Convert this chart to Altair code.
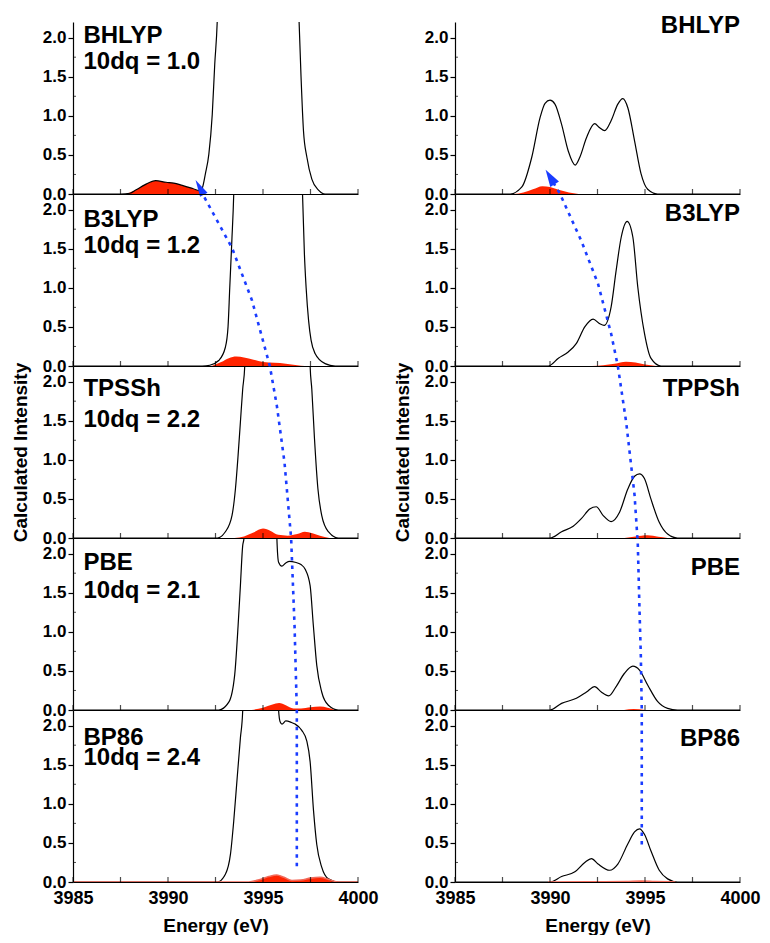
import altair as alt
import pandas as pd

FONT = "Liberation Sans"
RED = "#ff2400"
BLUE = "#1a3cff"

X_DOMAIN = [3985, 4000]
Y_DOMAIN = [0, 2.2]
PANEL_SPAN = 2.2
X_LABELS = [3985, 3990, 3995, 4000]
X_TICKS = [3985, 3987.5, 3990, 3992.5, 3995, 3997.5, 4000]
Y_LABELS = [0, 0.5, 1.0, 1.5, 2.0]
Y_MINOR = [0.25, 0.75, 1.25, 1.75]

# ---------------- left column (10dq) ----------------
left_names = ["BHLYP", "B3LYP", "TPSSh", "PBE", "BP86"]
left_dq = ["10dq = 1.0", "10dq = 1.2", "10dq = 2.2", "10dq = 2.1", "10dq = 2.4"]
left_name_y = [2.02, 1.87, 1.90, 1.88, 1.84]
left_dq_y = [1.69, 1.53, 1.51, 1.52, 1.58]

L1_black_E = [3985.0, 3987.5, 3988.0, 3988.3, 3988.8, 3989.35, 3989.9, 3990.3, 3990.75, 3991.3, 3991.7,
              3991.8, 3991.97, 3992.15, 3992.33, 3992.46, 3992.59, 3992.7, 3996.8, 3996.9, 3997.01, 3997.13,
              3997.31, 3997.57, 3997.92, 3998.27, 4000.0]
L1_black_I = [0, 0, 0.01, 0.05, 0.12, 0.17, 0.15, 0.14, 0.11, 0.07, 0.04,
              0.07, 0.26, 0.51, 1.02, 1.66, 2.2, 3.2, 3.2, 2.2, 1.45, 0.81,
              0.47, 0.19, 0.05, 0.0, 0.0]
L1_red_E = [3987.8, 3988.3, 3988.8, 3989.35, 3989.9, 3990.3, 3990.75, 3991.3, 3991.7, 3992.0]
L1_red_I = [0, 0.05, 0.12, 0.17, 0.15, 0.14, 0.11, 0.07, 0.03, 0]

L2_black_E = [3985.0, 3991.8, 3992.2, 3992.67, 3993.02, 3993.16, 3993.25, 3993.36, 3993.46, 3993.55,
              3996.98, 3997.08, 3997.18, 3997.27, 3997.4, 3997.53, 3997.74, 3998.27, 3998.8, 4000.0]
L2_black_I = [0, 0, 0.01, 0.07, 0.24, 0.5, 1.0, 1.6, 2.2, 3.2,
              3.2, 2.2, 1.43, 1.0, 0.58, 0.33, 0.16, 0.03, 0, 0]
L2_red_E = [3992.3, 3992.8, 3993.2, 3993.6, 3994.0, 3994.5, 3995.0, 3995.6, 3996.2, 3996.8, 3997.2]
L2_red_I = [0, 0.05, 0.1, 0.12, 0.11, 0.08, 0.05, 0.04, 0.03, 0.01, 0]

L3_black_E = [3985.0, 3992.59, 3993.02, 3993.37, 3993.55, 3993.69, 3993.81, 3993.93, 3994.04, 3994.15,
              3997.38, 3997.48, 3997.57, 3997.71, 3997.89, 3998.09, 3998.44, 3998.96, 4000.0]
L3_black_I = [0, 0, 0.08, 0.29, 0.63, 1.06, 1.48, 1.9, 2.2, 3.2,
              3.2, 2.2, 1.9, 1.27, 0.63, 0.29, 0.08, 0, 0]
L3_red_E = [3993.5, 3994.0, 3994.5, 3995.0, 3995.4, 3995.8, 3996.3, 3996.8, 3997.2, 3997.6, 3998.0, 3998.5]
L3_red_I = [0, 0.02, 0.07, 0.12, 0.09, 0.04, 0.03, 0.05, 0.08, 0.06, 0.03, 0]

L4_black_E = [3985.0, 3992.67, 3993.2, 3993.51, 3993.69, 3993.81, 3993.93, 3994.0, 3994.1,
              3995.65, 3995.73, 3995.82, 3995.99, 3996.2, 3996.4, 3996.69, 3997.0, 3997.22, 3997.48,
              3997.65, 3997.83, 3998.09, 3998.44, 3998.96, 4000.0]
L4_black_I = [0, 0, 0.1, 0.45, 1.08, 1.59, 2.1, 2.2, 3.2,
              3.2, 2.2, 1.89, 1.84, 1.88, 1.9, 1.89, 1.86, 1.8, 1.59,
              1.08, 0.57, 0.23, 0.06, 0, 0]
L4_red_E = [3994.4, 3995.0, 3995.5, 3995.85, 3996.2, 3996.6, 3997.0, 3997.5, 3998.0, 3998.4, 3998.8]
L4_red_I = [0, 0.03, 0.07, 0.09, 0.06, 0.02, 0.02, 0.035, 0.045, 0.03, 0]

L5_black_E = [3985.0, 3992.59, 3993.02, 3993.29, 3993.46, 3993.64, 3993.81, 3993.93, 3994.0,
              3995.75, 3995.82, 3995.9, 3996.0, 3996.2, 3996.5, 3996.69, 3997.04, 3997.31, 3997.48,
              3997.66, 3997.83, 3998.09, 3998.44, 3998.96, 4000.0]
L5_black_I = [0, 0, 0.1, 0.36, 0.78, 1.33, 1.84, 2.18, 3.2,
              3.2, 2.2, 2.05, 2.02, 2.06, 2.04, 2.02, 1.94, 1.8, 1.54,
              0.91, 0.48, 0.19, 0.04, 0, 0]
L5_red_E = [3985.0, 3994.25, 3994.8, 3995.3, 3995.73, 3996.1, 3996.52, 3997.0, 3997.5, 3998.0, 3998.5,
            3998.96, 4000.0]
L5_red_I = [0, 0, 0.03, 0.07, 0.09, 0.06, 0.02, 0.025, 0.05, 0.06, 0.03, 0, 0]

# ---------------- right column ----------------
right_names = ["BHLYP", "B3LYP", "TPPSh", "PBE", "BP86"]
right_name_y = [2.15, 1.94, 1.91, 1.81, 1.83]

R1_black_E = [3985.0, 3987.91, 3988.52, 3989.04, 3989.48, 3989.74, 3990.0, 3990.26, 3990.61, 3990.96,
              3991.33, 3991.57, 3991.92, 3992.35, 3992.6, 3992.88, 3993.22, 3993.57, 3993.83, 3994.1,
              3994.45, 3994.79, 3995.14, 3995.66, 4000.0]
R1_black_I = [0, 0, 0.09, 0.47, 0.98, 1.16, 1.2, 1.15, 0.89, 0.55,
              0.37, 0.47, 0.72, 0.9, 0.85, 0.81, 0.94, 1.15, 1.22, 1.1,
              0.68, 0.26, 0.06, 0, 0]
R1_red_E = [3988.1, 3988.6, 3989.1, 3989.6, 3990.0, 3990.5, 3991.0, 3991.5]
R1_red_I = [0, 0.02, 0.06, 0.1, 0.09, 0.05, 0.02, 0]

R2_black_E = [3985.0, 3989.91, 3990.44, 3990.96, 3991.39, 3991.83, 3992.27, 3992.62, 3992.85, 3993.22,
              3993.48, 3993.75, 3994.06, 3994.36, 3994.62, 3994.97, 3995.31, 3995.84, 4000.0]
R2_black_I = [0, 0, 0.1, 0.18, 0.29, 0.5, 0.6, 0.54, 0.52, 0.76,
              1.22, 1.65, 1.85, 1.65, 1.01, 0.42, 0.1, 0, 0]
R2_red_E = [3992.2, 3992.8, 3993.4, 3994.0, 3994.5, 3995.0, 3995.6]
R2_red_I = [0, 0.01, 0.03, 0.055, 0.045, 0.02, 0]

R3_black_E = [3985.0, 3990.0, 3990.61, 3991.22, 3991.66, 3992.09, 3992.44, 3992.79, 3993.22, 3993.66,
              3994.1, 3994.45, 3994.71, 3994.97, 3995.31, 3995.75, 3996.19, 3996.71, 4000.0]
R3_black_I = [0, 0, 0.08, 0.15, 0.25, 0.37, 0.4, 0.29, 0.21, 0.33,
              0.63, 0.79, 0.82, 0.76, 0.5, 0.2, 0.05, 0, 0]
R3_red_E = [3993.92, 3994.5, 3995.14, 3995.7, 3996.19]
R3_red_I = [0, 0.02, 0.035, 0.015, 0]

R4_black_E = [3985.0, 3990.0, 3990.61, 3991.39, 3991.92, 3992.35, 3992.7, 3993.09, 3993.48, 3993.92,
              3994.36, 3994.71, 3995.14, 3995.66, 3996.19, 3996.71, 4000.0]
R4_black_I = [0, 0, 0.085, 0.15, 0.23, 0.3, 0.23, 0.18, 0.3, 0.47,
              0.56, 0.51, 0.32, 0.11, 0.02, 0, 0]
R4_red_E = [3993.9, 3994.4, 3995.0]
R4_red_I = [0, 0.012, 0]

R5_black_E = [3985.0, 3990.0, 3990.61, 3991.31, 3991.83, 3992.18, 3992.53, 3993.14, 3993.57, 3994.1,
              3994.45, 3994.71, 3994.97, 3995.31, 3995.75, 3996.19, 3996.71, 4000.0]
R5_black_I = [0, 0, 0.07, 0.13, 0.25, 0.3, 0.23, 0.15, 0.23, 0.49,
              0.64, 0.68, 0.61, 0.4, 0.15, 0.04, 0, 0]
R5_red_E = [3989.9, 3992.0, 3994.0, 3994.8, 3995.5, 3996.6]
R5_red_I = [0, 0.003, 0.006, 0.012, 0.006, 0]

# ---------------- blue dashed arrows (stacked intensity: panel offset + local) ----------------
left_arrow_E = [3996.78, 3996.78, 3996.66, 3996.48, 3996.13, 3995.73, 3995.36, 3994.42, 3993.37, 3991.82, 3991.61]
left_arrow_G = [0.2, 2.2, 3.28, 4.4, 5.37, 6.09, 6.6, 7.44, 8.11, 8.8, 8.9]
left_tip = (3991.45, 0.18)

right_arrow_E = [3994.83, 3994.83, 3994.78, 3994.71, 3994.62, 3994.45, 3994.01, 3993.57, 3993.22,
                 3992.53, 3991.65, 3990.53, 3989.99]
right_arrow_G = [0.48, 2.2, 2.9, 3.49, 4.33, 4.95, 5.88, 6.6, 7.01, 7.65, 8.2, 8.8, 9.02]
right_tip = (3989.77, 0.31)

LEFT = dict(
    black=[(L1_black_E, L1_black_I), (L2_black_E, L2_black_I), (L3_black_E, L3_black_I),
           (L4_black_E, L4_black_I), (L5_black_E, L5_black_I)],
    red=[(L1_red_E, L1_red_I), (L2_red_E, L2_red_I), (L3_red_E, L3_red_I),
         (L4_red_E, L4_red_I), (L5_red_E, L5_red_I)],
    arrow=(left_arrow_E, left_arrow_G), tip=left_tip, tip_angle=331, tip_w=0.5,
)
RIGHT = dict(
    black=[(R1_black_E, R1_black_I), (R2_black_E, R2_black_I), (R3_black_E, R3_black_I),
           (R4_black_E, R4_black_I), (R5_black_E, R5_black_I)],
    red=[(R1_red_E, R1_red_I), (R2_red_E, R2_red_I), (R3_red_E, R3_red_I),
         (R4_red_E, R4_red_I), (R5_red_E, R5_red_I)],
    arrow=(right_arrow_E, right_arrow_G), tip=right_tip, tip_angle=328, tip_w=0.6,
)

PW, PH = 285, 172


def panel(col, side, p):
    bottom = p == 4
    xs = alt.Scale(domain=X_DOMAIN, nice=False, zero=False)
    ys = alt.Scale(domain=Y_DOMAIN, nice=False, zero=False)
    if bottom:
        xaxis = alt.Axis(values=X_LABELS, format="d", ticks=False, labelFlush=False, labelOverlap=False,
                         labelFontSize=18, labelFontWeight="bold", labelPadding=7, labelColor="black",
                         titleFontSize=19, titleFontWeight="bold", titlePadding=9, titleColor="black",
                         domainColor="black", domainWidth=1.2, grid=False, zindex=0)
        xtitle = "Energy (eV)"
    else:
        xaxis = alt.Axis(labels=False, ticks=False, domainColor="black", domainWidth=1.2, grid=False, zindex=1)
        xtitle = None
    yaxis = alt.Axis(values=Y_LABELS, format=".1f", tickSize=5, tickColor="black", tickWidth=1.2,
                     labelFontSize=17, labelFontWeight="bold", labelPadding=2, labelColor="black",
                     labelOverlap=False, domainColor="black", domainWidth=1.2, grid=False,
                     titleFontSize=19, titleFontWeight="bold", titlePadding=12, titleColor="black", zindex=1)
    ytitle = "Calculated Intensity" if p == 2 else None

    def X():
        return alt.X("E:Q", scale=xs, axis=xaxis, title=xtitle)

    def Y():
        return alt.Y("I:Q", scale=ys, axis=yaxis, title=ytitle)

    bE, bI = col["black"][p]
    rE, rI = col["red"][p]
    red_df = pd.DataFrame({"E": rE, "I": rI})
    black_df = pd.DataFrame({"E": bE, "I": bI})
    offset = (4 - p) * PANEL_SPAN
    aE, aG = col["arrow"]
    arrow_df = pd.DataFrame({"E": aE, "I": [g - offset for g in aG], "k": list(range(len(aE)))})
    xt_df = pd.DataFrame({"E": X_TICKS, "I": [0] * len(X_TICKS)})
    yt_df = pd.DataFrame({"E": [X_DOMAIN[0]] * len(Y_MINOR), "I": Y_MINOR})

    layers = [
        alt.Chart(red_df).mark_area(color=RED, interpolate="monotone", clip=True, opacity=1).encode(x=X(), y=Y()),
        alt.Chart(black_df).mark_line(color="black", strokeWidth=1.2, interpolate="monotone", clip=True).encode(x=X(), y=Y()),
    ]
    if bottom:
        layers.append(alt.Chart(red_df).mark_line(color="#f26a5a", strokeWidth=1.6, interpolate="monotone", clip=True)
                      .encode(x=X(), y=Y()))
    layers += [
        alt.Chart(xt_df).mark_tick(orient="vertical", size=5, thickness=1.2, color="black", yOffset=-2.5)
        .encode(x=X(), y=Y()),
        alt.Chart(yt_df).mark_tick(orient="horizontal", size=3, thickness=1, color="black", xOffset=1.5)
        .encode(x=X(), y=Y()),
        alt.Chart(arrow_df).mark_line(color=BLUE, strokeWidth=2.6, strokeDash=[3.5, 5], clip=True)
        .encode(x=X(), y=Y(), order=alt.Order("k:Q")),
    ]
    if side == "left":
        txt = pd.DataFrame({"E": [3985.55, 3985.55], "I": [left_name_y[p], left_dq_y[p]],
                            "label": [left_names[p], left_dq[p]]})
        layers.append(alt.Chart(txt).mark_text(align="left", baseline="middle", fontSize=24, fontWeight="bold",
                                               color="black", font=FONT)
                      .encode(x=X(), y=Y(), text="label:N"))
    else:
        txt = pd.DataFrame({"E": [4000.0], "I": [right_name_y[p]], "label": [right_names[p]]})
        layers.append(alt.Chart(txt).mark_text(align="right", baseline="middle", fontSize=24, fontWeight="bold",
                                               color="black", font=FONT)
                      .encode(x=X(), y=Y(), text="label:N"))
    if p == 0:
        tip_df = pd.DataFrame({"E": [col["tip"][0]], "I": [col["tip"][1]]})
        w = col["tip_w"]
        layers.append(alt.Chart(tip_df).mark_point(shape=f"M0,0L{w},2L-{w},2Z", filled=True, color=BLUE,
                                                   opacity=1, size=289, angle=col["tip_angle"], strokeWidth=0)
                      .encode(x=X(), y=Y()))
    return alt.layer(*layers).properties(width=PW, height=PH)


left_col = alt.vconcat(*[panel(LEFT, "left", p) for p in range(5)], spacing=0, bounds="flush")
right_col = alt.vconcat(*[panel(RIGHT, "right", p) for p in range(5)], spacing=0, bounds="flush")

chart = (
    alt.hconcat(left_col, right_col, spacing=14)
    .properties(padding={"left": 3, "top": 5, "right": 0, "bottom": 0}, background="white")
    .configure_view(stroke=None)
    .configure_axis(labelFont=FONT, titleFont=FONT)
    .configure_text(font=FONT)
)

chart.save("out.html", embed_options={"renderer": "svg", "actions": False})
